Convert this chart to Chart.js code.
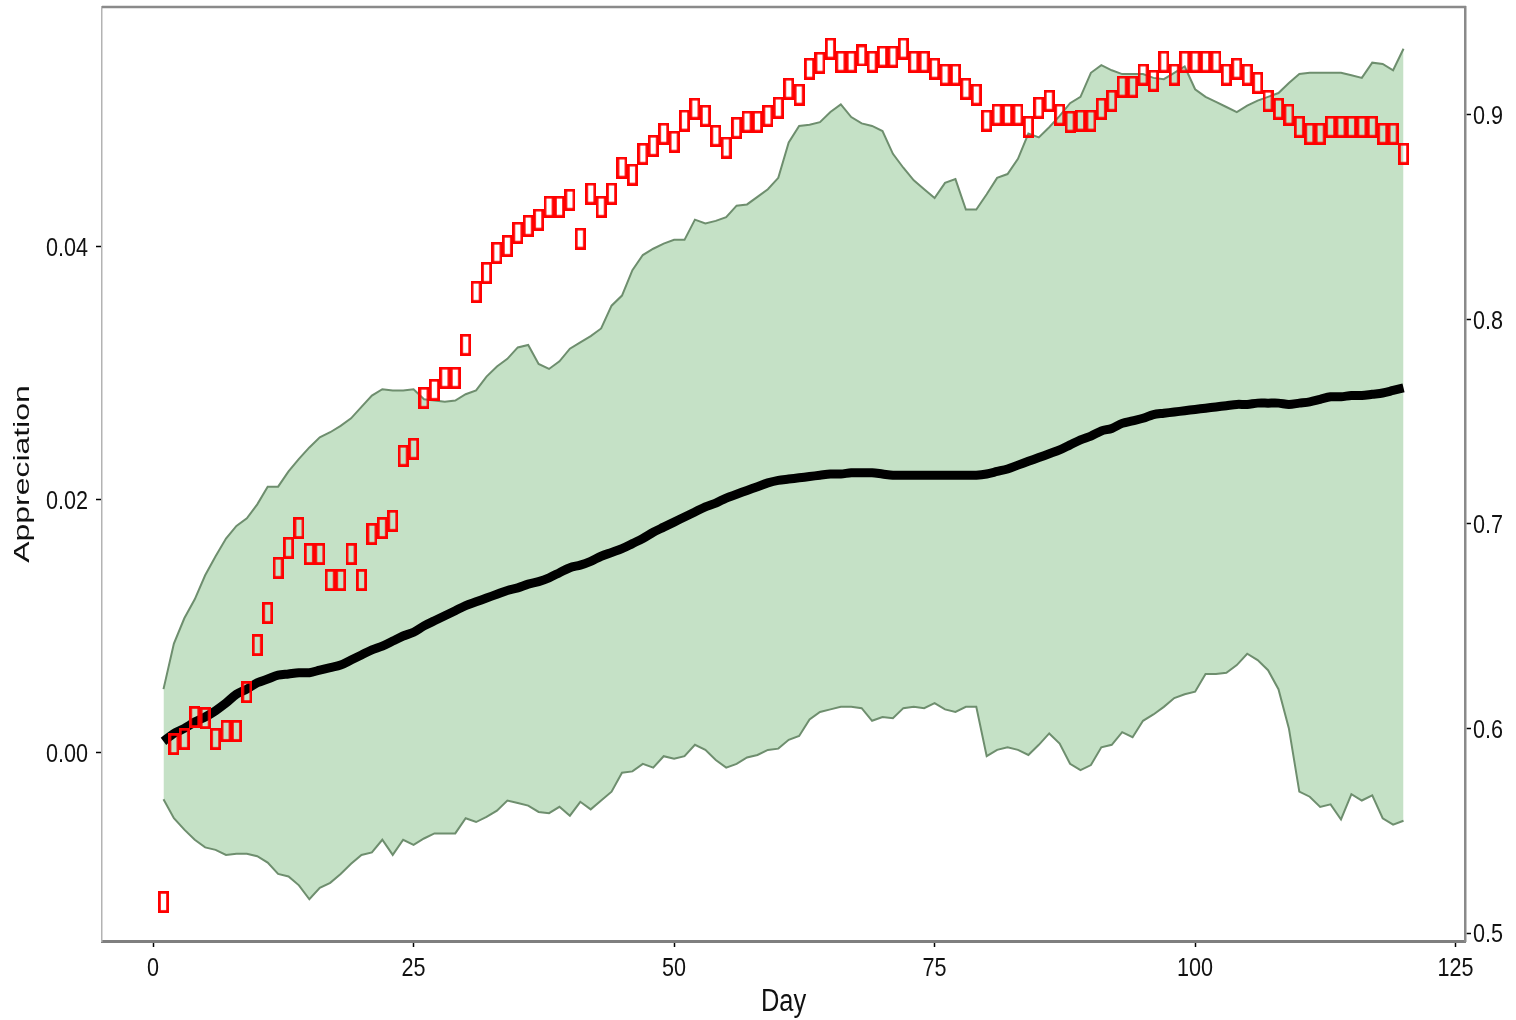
<!DOCTYPE html>
<html>
<head>
<meta charset="utf-8">
<script src="https://cdn.jsdelivr.net/npm/chart.js@4/dist/chart.umd.min.js"></script>
<style>
  html, body { margin: 0; padding: 0; background: #fff; }
  canvas { display: block; }
</style>
</head>
<body>
<canvas id="chart" width="1516" height="1020"></canvas>
<script>
// Day index of every observation
const days = Array.from({ length: 120 }, (_, i) => i + 1);

// Mean appreciation (left axis)
const meanAppreciation = [
  0.00087, 0.0015, 0.0019, 0.0024, 0.0028, 0.0033, 0.0039, 0.0046, 0.0050, 0.0055,
  0.0058, 0.0061, 0.0062, 0.0063, 0.0063, 0.0065, 0.0067, 0.0069, 0.0073, 0.0077,
  0.0081, 0.0084, 0.0088, 0.0092, 0.0095, 0.0100, 0.0104, 0.0108, 0.0112, 0.0116,
  0.0119, 0.0122, 0.0125, 0.0128, 0.0130, 0.0133, 0.0135, 0.0138, 0.0142, 0.0146,
  0.0148, 0.0151, 0.0155, 0.0158, 0.0161, 0.0165, 0.0169, 0.0174, 0.0178, 0.0182,
  0.0186, 0.0190, 0.0194, 0.0197, 0.0201, 0.0204, 0.0207, 0.0210, 0.0213, 0.0215,
  0.0216, 0.0217, 0.0218, 0.0219, 0.0220, 0.0220, 0.0221, 0.0221, 0.0221, 0.0220,
  0.0219, 0.0219, 0.0219, 0.0219, 0.0219, 0.0219, 0.0219, 0.0219, 0.0219, 0.0220,
  0.0222, 0.0224, 0.0227, 0.0230, 0.0233, 0.0236, 0.0239, 0.0243, 0.0247, 0.0250,
  0.0254, 0.0256, 0.0260, 0.0262, 0.0264, 0.0267, 0.0268, 0.0269, 0.0270, 0.0271,
  0.0272, 0.0273, 0.0274, 0.0275, 0.0275, 0.0276, 0.0276, 0.0276, 0.0275, 0.0276,
  0.0277, 0.0279, 0.0281, 0.0281, 0.0282, 0.0282, 0.0283, 0.0284, 0.0286, 0.0288
];

// Upper bound of the band (left axis)
const upperBand = [
  0.0050, 0.0086, 0.0106, 0.0121, 0.0140, 0.0155, 0.0169, 0.0179, 0.0185, 0.0196,
  0.0210, 0.0210, 0.0222, 0.0232, 0.0241, 0.0249, 0.0253, 0.0258, 0.0264, 0.0273,
  0.0282, 0.0287, 0.0286, 0.0286, 0.0287, 0.0279, 0.0278, 0.0277, 0.0278, 0.0283,
  0.0286, 0.0297, 0.0305, 0.0311, 0.0320, 0.0322, 0.0307, 0.0303, 0.0309, 0.0319,
  0.0324, 0.0329, 0.0335, 0.0353, 0.0361, 0.0381, 0.0393, 0.0398, 0.0402, 0.0405,
  0.0405, 0.0421, 0.0418, 0.0420, 0.0423, 0.0432, 0.0433, 0.0439, 0.0445, 0.0454,
  0.0482, 0.0495, 0.0496, 0.0498, 0.0506, 0.0512, 0.0502, 0.0497, 0.0495, 0.0491,
  0.0473, 0.0462, 0.0452, 0.0445, 0.0438, 0.0450, 0.0453, 0.0429, 0.0429, 0.0441,
  0.0454, 0.0457, 0.0469, 0.0489, 0.0486, 0.0494, 0.0503, 0.0513, 0.0518, 0.0537,
  0.0543, 0.0539, 0.0536, 0.0536, 0.0536, 0.0533, 0.0532, 0.0537, 0.0542, 0.0524,
  0.0518, 0.0514, 0.0510, 0.0506, 0.0511, 0.0515, 0.0518, 0.0521, 0.0529, 0.0536,
  0.0537, 0.0537, 0.0537, 0.0537, 0.0535, 0.0533, 0.0545, 0.0544, 0.0539, 0.0556
];

// Lower bound of the band (left axis)
const lowerBand = [
  -0.0037, -0.0052, -0.0061, -0.0069, -0.0075, -0.0077, -0.0081, -0.0080, -0.0080, -0.0082,
  -0.0087, -0.0096, -0.0098, -0.0105, -0.0116, -0.0107, -0.0103, -0.0096, -0.0088, -0.0081,
  -0.0079, -0.0069, -0.0081, -0.0069, -0.0073, -0.0068, -0.0064, -0.0064, -0.0064, -0.0052,
  -0.0055, -0.0051, -0.0046, -0.0038, -0.0040, -0.0042, -0.0047, -0.0048, -0.0043, -0.0050,
  -0.0039, -0.0045, -0.0038, -0.0031, -0.0016, -0.0015, -0.0009, -0.0012, -0.0003, -0.0005,
  -0.0003, 0.0006, 0.0002, -0.0006, -0.0012, -0.0009, -0.0004, -0.0002, 0.0002, 0.0003,
  0.0010, 0.0013, 0.0026, 0.0032, 0.0034, 0.0036, 0.0036, 0.0035, 0.0025, 0.0028,
  0.0027, 0.0035, 0.0036, 0.0035, 0.0039, 0.0034, 0.0032, 0.0036, 0.0036, -0.0003,
  0.0002, 0.0004, 0.0002, -0.0002, 0.0006, 0.0015, 0.0007, -0.0009, -0.0014, -0.0010,
  0.0004, 0.0006, 0.0016, 0.0012, 0.0025, 0.0030, 0.0036, 0.0043, 0.0046, 0.0048,
  0.0062, 0.0062, 0.0063, 0.0069, 0.0078, 0.0073, 0.0065, 0.0050, 0.0019, -0.0031,
  -0.0035, -0.0043, -0.0041, -0.0053, -0.0033, -0.0038, -0.0034, -0.0052, -0.0057, -0.0054
];

// Daily observed value (right axis)
const observed = [
  0.5152, 0.5924, 0.5949, 0.6056, 0.6051, 0.5949, 0.5988, 0.5988, 0.6178, 0.6408,
  0.6565, 0.6785, 0.6883, 0.6980, 0.6853, 0.6853, 0.6726, 0.6726, 0.6853, 0.6726,
  0.6951, 0.6980, 0.7015, 0.7333, 0.7367, 0.7616, 0.7655, 0.7714, 0.7714, 0.7875,
  0.8134, 0.8227, 0.8325, 0.8359, 0.8423, 0.8457, 0.8487, 0.8550, 0.8550, 0.8584,
  0.8394, 0.8614, 0.8550, 0.8614, 0.8741, 0.8707, 0.8809, 0.8848, 0.8907, 0.8868,
  0.8971, 0.9029, 0.8995, 0.8897, 0.8839, 0.8936, 0.8966, 0.8966, 0.8995, 0.9034,
  0.9127, 0.9098, 0.9225, 0.9254, 0.9323, 0.9259, 0.9259, 0.9289, 0.9259, 0.9284,
  0.9284, 0.9323, 0.9259, 0.9259, 0.9225, 0.9196, 0.9196, 0.9127, 0.9098, 0.8971,
  0.9000, 0.9000, 0.9000, 0.8941, 0.9034, 0.9068, 0.9000, 0.8966, 0.8971, 0.8971,
  0.9029, 0.9068, 0.9137, 0.9137, 0.9196, 0.9166, 0.9259, 0.9196, 0.9259, 0.9259,
  0.9259, 0.9259, 0.9196, 0.9225, 0.9196, 0.9156, 0.9068, 0.9029, 0.9000, 0.8941,
  0.8907, 0.8907, 0.8941, 0.8941, 0.8941, 0.8941, 0.8941, 0.8907, 0.8907, 0.8809
];

// Axis ticks and titles
const dayTicks = [0, 25, 50, 75, 100, 125];
const leftTicks = [0.00, 0.02, 0.04];
const rightTicks = [0.5, 0.6, 0.7, 0.8, 0.9];
const xTitle = 'Day';
const yTitle = 'Appreciation';

const FONT = '"Liberation Sans", Arial, Helvetica, sans-serif';
const TEXT = '#111111';
const SQUEEZE = 0.83;   // horizontal compression of the condensed axis text

// Open red rectangle used as the marker of the observed series
function makeMarker() {
  const c = document.createElement('canvas');
  c.width = 11;
  c.height = 22;
  const g = c.getContext('2d');
  g.strokeStyle = '#ff0000';
  g.lineWidth = 2.8;
  g.strokeRect(1.4, 1.4, c.width - 2.8, c.height - 2.8);
  return c;
}

const pairs = (ys) => days.map((d, i) => ({ x: d, y: ys[i] }));
const fixedTicks = (arr) => (scale) => { scale.ticks = arr.map(v => ({ value: v })); };
const noPadding = (s) => { s.paddingTop = 0; s.paddingBottom = 0; s.paddingLeft = 0; s.paddingRight = 0; };

// Draws a condensed text string at (x, y) with the given alignment
function squeezedText(ctx, text, x, y, size, align, sx) {
  ctx.save();
  ctx.translate(x, y);
  ctx.scale(sx, 1);
  ctx.font = size + 'px ' + FONT;
  ctx.fillStyle = TEXT;
  ctx.textAlign = align;
  ctx.textBaseline = 'alphabetic';
  ctx.fillText(text, 0, 0);
  ctx.restore();
}

// Panel frame line along the top edge
const topFrame = {
  id: 'topFrame',
  afterDraw(chart) {
    const { ctx, chartArea } = chart;
    ctx.save();
    ctx.strokeStyle = '#8a8a8a';
    ctx.lineWidth = 2.5;
    ctx.beginPath();
    ctx.moveTo(chartArea.left, chartArea.top);
    ctx.lineTo(chartArea.right + 1, chartArea.top);
    ctx.stroke();
    ctx.restore();
  }
};

// Tick labels and axis titles, set in a condensed face
const axisText = {
  id: 'axisText',
  afterDraw(chart) {
    const { ctx, chartArea, scales } = chart;
    const size = 26;
    const half = size * 0.716 / 2;

    dayTicks.forEach(v => {
      squeezedText(ctx, String(v), scales.x.getPixelForValue(v), chartArea.bottom + 35, size, 'center', SQUEEZE);
    });
    leftTicks.forEach(v => {
      squeezedText(ctx, v.toFixed(2), chartArea.left - 14, scales.y.getPixelForValue(v) + half, size, 'right', SQUEEZE);
    });
    rightTicks.forEach(v => {
      squeezedText(ctx, v.toFixed(1), chartArea.right + 8, scales.y2.getPixelForValue(v) + half, size, 'left', SQUEEZE);
    });

    squeezedText(ctx, xTitle, (chartArea.left + chartArea.right) / 2, chartArea.bottom + 70, 31, 'center', 0.82);

    ctx.save();
    ctx.translate(29, (chartArea.top + chartArea.bottom) / 2);
    ctx.rotate(-Math.PI / 2);
    ctx.scale(1.45, 1);
    ctx.font = '22px ' + FONT;
    ctx.fillStyle = TEXT;
    ctx.textAlign = 'center';
    ctx.textBaseline = 'alphabetic';
    ctx.fillText(yTitle, 0, 0);
    ctx.restore();
  }
};

const tickGrid = { drawOnChartArea: false, drawTicks: true, tickLength: 6, tickColor: '#000', tickWidth: 1.5 };

new Chart(document.getElementById('chart'), {
  type: 'line',
  data: {
    datasets: [
      {
        label: 'upper',
        data: pairs(upperBand),
        yAxisID: 'y',
        borderColor: '#6e8e6e',
        borderWidth: 2,
        backgroundColor: '#c5e1c6',
        fill: '+1',
        pointRadius: 0,
        tension: 0,
        order: 3
      },
      {
        label: 'lower',
        data: pairs(lowerBand),
        yAxisID: 'y',
        borderColor: '#6e8e6e',
        borderWidth: 2,
        fill: false,
        pointRadius: 0,
        tension: 0,
        order: 2
      },
      {
        label: 'mean',
        data: pairs(meanAppreciation),
        yAxisID: 'y',
        borderColor: '#000',
        borderWidth: 9,
        borderCapStyle: 'butt',
        borderJoinStyle: 'round',
        fill: false,
        pointRadius: 0,
        tension: 0.3,
        order: 1
      },
      {
        label: 'observed',
        data: pairs(observed),
        yAxisID: 'y2',
        showLine: false,
        pointStyle: makeMarker(),
        pointRadius: 6,
        fill: false,
        order: 0
      }
    ]
  },
  options: {
    responsive: false,
    animation: false,
    events: [],
    layout: { padding: { top: 6, left: 0, right: 0, bottom: 0 } },
    plugins: { legend: { display: false }, tooltip: { enabled: false } },
    scales: {
      x: {
        type: 'linear',
        position: 'bottom',
        min: -4.9,
        max: 125.9,
        afterBuildTicks: fixedTicks(dayTicks),
        afterFit: (s) => { s.height = 79; noPadding(s); },
        grid: tickGrid,
        border: { display: true, color: '#7f7f7f', width: 3 },
        ticks: { display: false }
      },
      y: {
        type: 'linear',
        position: 'left',
        min: -0.0149,
        max: 0.0589,
        afterBuildTicks: fixedTicks(leftTicks),
        afterFit: (s) => { s.width = 102; noPadding(s); },
        grid: tickGrid,
        border: { display: true, color: '#b3b3b3', width: 1.5 },
        ticks: { display: false }
      },
      y2: {
        type: 'linear',
        position: 'right',
        min: 0.4961,
        max: 0.9526,
        afterBuildTicks: fixedTicks(rightTicks),
        afterFit: (s) => { s.width = 51; noPadding(s); },
        grid: tickGrid,
        border: { display: true, color: '#8a8a8a', width: 2.5 },
        ticks: { display: false }
      }
    }
  },
  plugins: [topFrame, axisText]
});
</script>
</body>
</html>
